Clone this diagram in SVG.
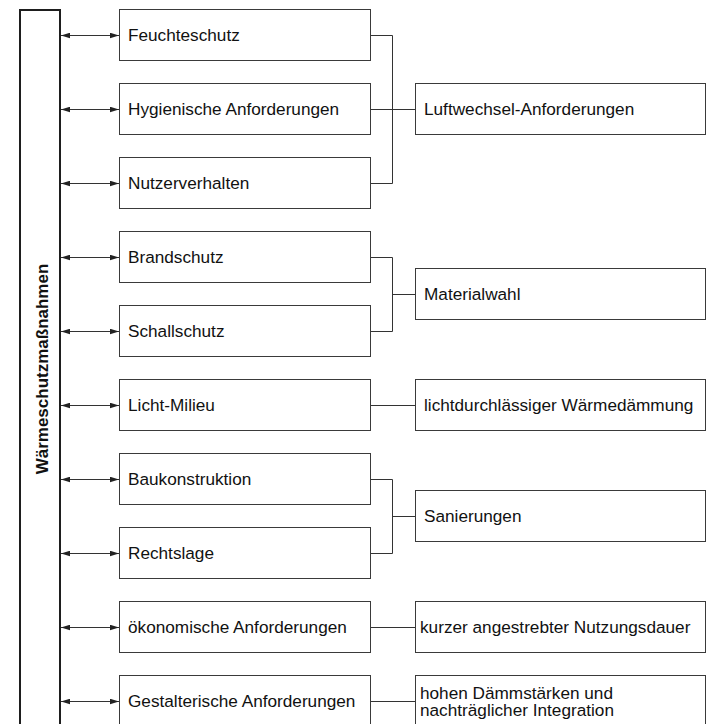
<svg xmlns="http://www.w3.org/2000/svg" width="708" height="724" viewBox="0 0 708 724">
  <style>
    .box { fill: #ffffff; stroke: #3a3a3a; stroke-width: 1; }
    .bar { fill: #ffffff; stroke: #1e1e1e; stroke-width: 2; }
    .lbl { font-family: "Liberation Sans", Arial, sans-serif; font-size: 17.2px; fill: #111111; }
    .title { font-family: "Liberation Sans", Arial, sans-serif; font-size: 17px; font-weight: bold; fill: #111111; }
    .link { fill: none; stroke: #333333; stroke-width: 1; }
    .arrow { fill: none; stroke: #333333; stroke-width: 1; marker-start: url(#head-start); marker-end: url(#head-end); }
  </style>
  <defs>
    <marker id="head-end" markerUnits="userSpaceOnUse" markerWidth="10" markerHeight="8" refX="9" refY="3" orient="auto">
      <path d="M0,0.2 L9,3 L0,5.8 Z" fill="#222222"/>
    </marker>
    <marker id="head-start" markerUnits="userSpaceOnUse" markerWidth="10" markerHeight="8" refX="0" refY="3" orient="auto">
      <path d="M9,0.2 L0,3 L9,5.8 Z" fill="#222222"/>
    </marker>
  </defs>

  <rect width="708" height="724" fill="#ffffff"/>

  <!-- vertical title bar -->
  <g id="waermeschutz">
    <rect class="bar" x="20" y="10" width="40" height="740"/>
    <text class="title" transform="translate(47.5,369) rotate(-90)" text-anchor="middle">Wärmeschutzmaßnahmen</text>
  </g>

  <!-- connectors -->
  <g id="connectors">
    <line class="arrow" x1="61" y1="35.5" x2="119" y2="35.5"/>
    <line class="arrow" x1="61" y1="109.5" x2="119" y2="109.5"/>
    <line class="arrow" x1="61" y1="183.5" x2="119" y2="183.5"/>
    <line class="arrow" x1="61" y1="257.5" x2="119" y2="257.5"/>
    <line class="arrow" x1="61" y1="331.5" x2="119" y2="331.5"/>
    <line class="arrow" x1="61" y1="405.5" x2="119" y2="405.5"/>
    <line class="arrow" x1="61" y1="479.5" x2="119" y2="479.5"/>
    <line class="arrow" x1="61" y1="553.5" x2="119" y2="553.5"/>
    <line class="arrow" x1="61" y1="627.5" x2="119" y2="627.5"/>
    <line class="arrow" x1="61" y1="701.5" x2="119" y2="701.5"/>

    <!-- bracket to Luftwechsel-Anforderungen -->
    <path class="link" d="M371,35.5 H392.5 V183.5 H371 M371,109.5 H416"/>
    <!-- bracket to Materialwahl -->
    <path class="link" d="M371,257.5 H392.5 V331.5 H371 M392.5,294.5 H416"/>
    <!-- Licht-Milieu -->
    <path class="link" d="M371,405.5 H416"/>
    <!-- bracket to Sanierungen -->
    <path class="link" d="M371,479.5 H392.5 V553.5 H371 M392.5,516.5 H416"/>
    <!-- ökonomische Anforderungen -->
    <path class="link" d="M371,627.5 H416"/>
    <!-- Gestalterische Anforderungen -->
    <path class="link" d="M371,701.5 H416"/>
  </g>

  <!-- left column -->
  <g id="feuchteschutz">
    <rect class="box" x="119.5" y="9.5" width="251" height="51"/>
    <text class="lbl" x="128" y="41">Feuchteschutz</text>
  </g>
  <g id="hygienische-anforderungen">
    <rect class="box" x="119.5" y="83.5" width="251" height="51"/>
    <text class="lbl" x="128" y="115">Hygienische Anforderungen</text>
  </g>
  <g id="nutzerverhalten">
    <rect class="box" x="119.5" y="157.5" width="251" height="51"/>
    <text class="lbl" x="128" y="189">Nutzerverhalten</text>
  </g>
  <g id="brandschutz">
    <rect class="box" x="119.5" y="231.5" width="251" height="51"/>
    <text class="lbl" x="128" y="263">Brandschutz</text>
  </g>
  <g id="schallschutz">
    <rect class="box" x="119.5" y="305.5" width="251" height="51"/>
    <text class="lbl" x="128" y="337">Schallschutz</text>
  </g>
  <g id="licht-milieu">
    <rect class="box" x="119.5" y="379.5" width="251" height="51"/>
    <text class="lbl" x="128" y="411">Licht-Milieu</text>
  </g>
  <g id="baukonstruktion">
    <rect class="box" x="119.5" y="453.5" width="251" height="51"/>
    <text class="lbl" x="128" y="485">Baukonstruktion</text>
  </g>
  <g id="rechtslage">
    <rect class="box" x="119.5" y="527.5" width="251" height="51"/>
    <text class="lbl" x="128" y="559">Rechtslage</text>
  </g>
  <g id="oekonomische-anforderungen">
    <rect class="box" x="119.5" y="601.5" width="251" height="51"/>
    <text class="lbl" x="128" y="633">ökonomische Anforderungen</text>
  </g>
  <g id="gestalterische-anforderungen">
    <rect class="box" x="119.5" y="675.5" width="251" height="60"/>
    <text class="lbl" x="128" y="707">Gestalterische Anforderungen</text>
  </g>

  <!-- right column -->
  <g id="luftwechsel-anforderungen">
    <rect class="box" x="415.5" y="83.5" width="290" height="51"/>
    <text class="lbl" x="424" y="115">Luftwechsel-Anforderungen</text>
  </g>
  <g id="materialwahl">
    <rect class="box" x="415.5" y="268.5" width="290" height="51"/>
    <text class="lbl" x="424" y="300">Materialwahl</text>
  </g>
  <g id="lichtdurchlaessige-waermedaemmung">
    <rect class="box" x="415.5" y="379.5" width="290" height="51"/>
    <text class="lbl" x="424" y="411">lichtdurchlässiger Wärmedämmung</text>
  </g>
  <g id="sanierungen">
    <rect class="box" x="415.5" y="490.5" width="290" height="51"/>
    <text class="lbl" x="424" y="522">Sanierungen</text>
  </g>
  <g id="nutzungsdauer">
    <rect class="box" x="415.5" y="601.5" width="290" height="51"/>
    <text class="lbl" x="420" y="633">kurzer angestrebter Nutzungsdauer</text>
  </g>
  <g id="daemmstaerken">
    <rect class="box" x="415.5" y="675.5" width="290" height="60"/>
    <text class="lbl" x="420" y="699">hohen Dämmstärken und</text>
    <text class="lbl" x="420" y="716">nachträglicher Integration</text>
  </g>
</svg>
